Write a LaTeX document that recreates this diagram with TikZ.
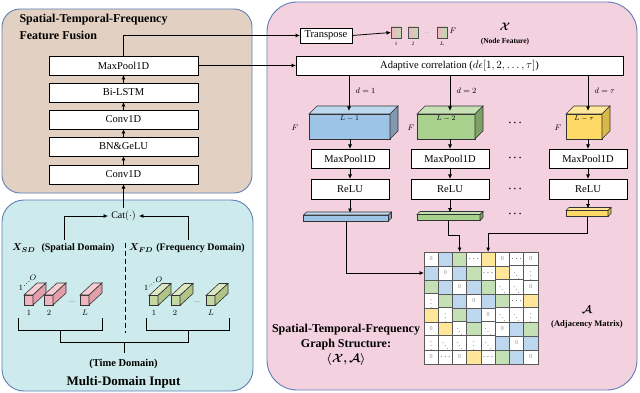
\documentclass[tikz,border=0pt]{standalone}
\usepackage{fontspec}
\setmainfont{Liberation Serif}
\usepackage{bm}
\usetikzlibrary{arrows.meta,calc}
\definecolor{beige}{HTML}{E2D0C2}
\definecolor{cyanbg}{HTML}{CDEBEC}
\definecolor{pinkbg}{HTML}{F4D1DF}
\definecolor{pborder}{HTML}{5E7FB5}
\definecolor{cb}{HTML}{BDD7EE}
\definecolor{cg}{HTML}{C5E0B4}
\definecolor{cy}{HTML}{FFE699}
\definecolor{bfront}{HTML}{9DC3E6}
\definecolor{bside}{HTML}{8497B0}
\definecolor{gfront}{HTML}{A9D18E}
\definecolor{gside}{HTML}{7F9F64}
\definecolor{yfront}{HTML}{FFD966}
\definecolor{yside}{HTML}{D9B84A}
\definecolor{pkfront}{HTML}{EFB4BE}
\definecolor{pktop}{HTML}{F7CDD4}
\definecolor{pkside}{HTML}{E29FAB}
\definecolor{gnfront}{HTML}{C6D8A2}
\definecolor{gntop}{HTML}{DCE8C2}
\definecolor{gnside}{HTML}{AFC486}
\definecolor{sqpink}{HTML}{F2B2C0}
\definecolor{sqgreen}{HTML}{BFDDB0}
\newcommand\cubefaces[5]{%
  \filldraw[face,fill=#4] (#1.north west) -- ++(#2,-#3) -- ($(#1.north east)+(#2,-#3)$) -- (#1.north east) -- cycle;
  \filldraw[face,fill=#5] (#1.north east) -- ++(#2,-#3) -- ($(#1.south east)+(#2,-#3)$) -- (#1.south east) -- cycle;
}
\begin{document}
\begin{tikzpicture}[x=1pt,y=-1pt,
  panel/.style={draw=pborder,line width=0.9pt},
  arr/.style={-{Latex[length=4.5pt,width=4pt]},line width=0.8pt},
  ln/.style={line width=0.8pt},
  blk/.style={draw,line width=0.8pt,fill=white,minimum height=19,inner sep=0,outer sep=0,font=\fontsize{10.5}{12}\selectfont},
  face/.style={draw=black!80,line width=0.6pt},
  frontface/.style={face,inner sep=0,outer sep=0},
  title/.style={font=\fontsize{12}{14}\selectfont\bfseries},
  lbl/.style={font=\fontsize{10}{12}\selectfont\bfseries},
  small/.style={font=\fontsize{8}{9}\selectfont},
  tiny/.style={font=\fontsize{5}{6}\selectfont},
  sq/.style={draw=black!70,line width=0.6pt,minimum width=10,minimum height=11,inner sep=0,outer sep=0,left color=sqpink,right color=sqgreen},
  cell/.style={draw=black!65,line width=0.6pt,minimum width=14.25,minimum height=14,inner sep=0,outer sep=0,font=\fontsize{6}{6}\selectfont},
  dts/.style={font=\fontsize{10}{10}\selectfont}
]
\useasboundingbox (0,0) rectangle (640,393);
% panels
\draw[panel,fill=beige,rounded corners=18] (2,9) rectangle (252,193);
\draw[panel,fill=cyanbg,rounded corners=22] (2,200) rectangle (253,391);
\draw[panel,fill=pinkbg,rounded corners=30] (267,2) rectangle (637,390);

% feature fusion
\node[title,anchor=west] (t1) at (16,20) {Spatial-Temporal-Frequency};
\node[title,anchor=west] (t2) at (16,35) {Feature Fusion};
\node[blk,minimum width=149] (mp) at (123.5,65.5) {MaxPool1D};
\node[blk,minimum width=149] (bl) at (123.5,92.5) {Bi-LSTM};
\node[blk,minimum width=149] (cv2) at (123.5,119.5) {Conv1D};
\node[blk,minimum width=149] (bn) at (123.5,146.5) {BN\&GeLU};
\node[blk,minimum width=149] (cv1) at (123.5,174.5) {Conv1D};
\draw[arr] (cv1) -- (bn);
\draw[arr] (bn) -- (cv2);
\draw[arr] (cv2) -- (bl);
\draw[arr] (bl) -- (mp);

% multi-domain input
\node[font=\fontsize{10}{12}\selectfont,inner sep=3] (cat) at (123.5,216) {Cat$(\cdot)$};
\draw[arr] (cat) -- (cv1);
\coordinate (sd) at (64,240);
\coordinate (fd) at (188,240);
\draw[arr] (sd) |- (cat.west);
\draw[arr] (fd) |- (cat.east);
\node[lbl,anchor=west,inner sep=0] (xsd) at (12,248.5) {$\bm{X_{SD}}$\hspace{6pt}(Spatial Domain)};
\node[lbl,anchor=west,inner sep=0] (xfd) at (129,248.5) {$\bm{X_{FD}}$\hspace{3pt}(Frequency Domain)};
\draw[line width=1pt,dash pattern=on 5pt off 3pt] (125,243) -- (125,333);

% pink prisms
\foreach \nm/\xa in {p1/28.5,p2/48.5,p3/84.5}{
  \node[frontface,fill=pkfront,minimum width=9,minimum height=10] (\nm) at (\xa,300) {};
  \cubefaces{\nm}{13}{12}{pktop}{pkside}
}
\foreach \nm/\xa in {g1/153.5,g2/175.5,g3/210.5}{
  \node[frontface,fill=gnfront,minimum width=9,minimum height=10] (\nm) at (\xa,300.5) {};
  \cubefaces{\nm}{13}{12}{gntop}{gnside}
}
\node[small,text=black!50] (pd) at (72,302) {...};
\node[small,text=black!50] (gd) at (197,302) {...};
\foreach \nm/\xa/\t in {l1/29/1,l2/49/2,l3/85/L,m1/154/1,m2/175/2,m3/211/L}{
  \node[small,font=\fontsize{8.5}{9}\selectfont] (\nm) at (\xa,313) {$\t$};
}
\node[small,inner sep=0] (o1a) at (21,288) {1};
\node[small,inner sep=0] (o1c) at (33,278) {$O$};
\foreach \dd in {0,1,2} \fill ($(24.5,285.5)+(2.2*\dd,-2*\dd)$) circle (0.45);
\node[small,inner sep=0] (o2a) at (146,288) {1};
\node[small,inner sep=0] (o2c) at (159,280) {$O$};
\foreach \dd in {0,1,2} \fill ($(149.5,286)+(2.2*\dd,-1.8*\dd)$) circle (0.45);

% brackets
\draw[ln] (18,318) -- (18,330) -- (102,330) -- (102,318);
\draw[ln] (146,318) -- (146,330) -- (229,330) -- (229,318);
\draw[ln] (60,330) -- (60,342) -- (188,342) -- (188,330);
\draw[ln] (124,342) -- (124,353);
\node[lbl,font=\fontsize{10.5}{12}\selectfont\bfseries] (td) at (123.5,364) {(Time Domain)};
\node[title,font=\fontsize{13}{15}\selectfont\bfseries] (mdi) at (123.5,382) {Multi-Domain Input};

% right panel top
\node[blk,minimum width=52,minimum height=15] (tr) at (326,35.5) {Transpose};
\draw[arr] (mp.north) |- (tr.west);
\node[blk,minimum width=327] (ac) at (459.5,65.5) {Adaptive correlation ($d\epsilon[1,2,\ldots,\tau]$)};
\draw[arr] (mp.east) -- (mp.east -| ac.west);
\node[sq] (q1) at (396,32.5) {};
\node[sq] (q2) at (413,32.5) {};
\node[sq] (q3) at (442,32.5) {};
\draw[arr] (tr.east) -- (q1.west);
\node[tiny,text=black!50] (qd) at (427,33) {...};
\node[tiny] (ql1) at (396,44) {1};
\node[tiny] (ql2) at (413,44) {2};
\node[tiny] (ql3) at (442,44) {$L$};
\node[small] (qf) at (453,31) {$F$};
\node[font=\fontsize{11}{12}\selectfont] (xn) at (505,27) {$\bm{\mathcal{X}}$};
\node[font=\fontsize{7.5}{9}\selectfont\bfseries] (nf) at (505,42) {(Node Feature)};

% cubes
\node[frontface,fill=bfront,minimum width=81,minimum height=25] (c1) at (349.5,126.5) {};
\cubefaces{c1}{8}{8}{cb}{bside}
\node[frontface,fill=gfront,minimum width=58,minimum height=25] (c2) at (446,126.5) {};
\cubefaces{c2}{8}{8}{cg}{gside}
\node[frontface,fill=yfront,minimum width=36,minimum height=25] (c3) at (584,126.5) {};
\cubefaces{c3}{8}{8}{cy}{yside}
\node[font=\fontsize{7}{8}\selectfont] (cl1) at (349.5,118.5) {$L-1$};
\node[font=\fontsize{7}{8}\selectfont] (cl2) at (446,118.5) {$L-2$};
\node[font=\fontsize{7}{8}\selectfont] (cl3) at (584,118.5) {$L-\tau$};
\node[small] (f1) at (295,128) {$F$};
\node[small] (f2) at (411,128) {$F$};
\node[small] (f3) at (558,128) {$F$};

\coordinate (k1) at (349,111);
\coordinate (k2) at (450,111);
\coordinate (k3) at (588,111);
\draw[arr] (ac.south -| k1) -- (k1);
\draw[arr] (ac.south -| k2) -- (k2);
\draw[arr] (ac.south -| k3) -- (k3);
\node[small,anchor=west] (d1) at (352,91) {$d=1$};
\node[small,anchor=west] (d2) at (453,91) {$d=2$};
\node[small,anchor=west] (d3) at (591,91) {$d=\tau$};

% maxpool / relu columns
\node[blk,minimum width=78] (mpa) at (350,158.5) {MaxPool1D};
\node[blk,minimum width=78] (mpb) at (450,158.5) {MaxPool1D};
\node[blk,minimum width=78] (mpc) at (588,158.5) {MaxPool1D};
\node[blk,minimum width=78,minimum height=20] (rla) at (350,189) {ReLU};
\node[blk,minimum width=78,minimum height=20] (rlb) at (450,189) {ReLU};
\node[blk,minimum width=78,minimum height=20] (rlc) at (588,189) {ReLU};
\draw[arr] (c1.south -| mpa.north) -- (mpa.north);
\draw[arr] (c2.south -| mpb.north) -- (mpb.north);
\draw[arr] (c3.south -| mpc.north) -- (mpc.north);
\draw[arr] (mpa) -- (rla);
\draw[arr] (mpb) -- (rlb);
\draw[arr] (mpc) -- (rlc);

% bars
\node[frontface,fill=bfront,minimum width=85,minimum height=6] (b1) at (346,218) {};
\cubefaces{b1}{3}{3}{cb}{bside}
\node[frontface,fill=gfront,minimum width=63,minimum height=6] (b2) at (448.5,217.5) {};
\cubefaces{b2}{3}{3}{cg}{gside}
\node[frontface,fill=yfront,minimum width=42,minimum height=6] (b3) at (587,213.5) {};
\cubefaces{b3}{3}{3}{cy}{yside}
\draw[arr] (rla.south) -- ($(rla.south |- b1.north)+(0,-2)$);
\draw[arr] (rlb.south) -- ($(rlb.south |- b2.north)+(0,-2)$);
\draw[arr] (rlc.south) -- ($(rlc.south |- b3.north)+(0,-2)$);

% dots between columns
\node[dts] (e1) at (515,123) {$\bm{\cdots}$};
\node[dts] (e2) at (515,158) {$\bm{\cdots}$};
\node[dts] (e3) at (515,189) {$\bm{\cdots}$};
\node[dts] (e4) at (515,214) {$\bm{\cdots}$};

% matrix
\foreach \row [count=\r] in {{0,b,g,h,y,0,h,0},{b,0,b,g,h,y,d,v},{g,b,0,b,g,d,d,0},{v,g,b,0,b,g,h,y},{y,v,g,b,0,d,d,v},{0,y,d,g,d,0,b,g},{v,d,d,v,d,b,0,b},{0,h,0,y,h,g,b,0}}{
  \foreach \c [count=\k] in \row {
    \def\cf{white}\def\ct{}%
    \if 0\c \def\ct{\textcolor{black!45}{0}}\fi
    \if b\c \def\cf{cb}\fi
    \if g\c \def\cf{cg}\fi
    \if y\c \def\cf{cy}\fi
    \if h\c \def\ct{$\bm{\cdots}$}\fi
    \if v\c \def\ct{$\vdots$}\fi
    \if d\c \def\ct{$\ddots$}\fi
    \node[cell,fill=\cf] (m-\r-\k) at ({424+(\k-0.5)*14.25},{252+(\r-0.5)*14}) {\ct};
  }
}
\draw[arr] (b1.south) |- (m-2-1.west);
\draw[arr] (b2.south) -- ++(0,15) -| (m-1-3.north);
\draw[arr] (b3.south) -- ++(0,17) -| (m-1-5.north);

\node[title,inner sep=0] (gs1) at (346,330) {Spatial-Temporal-Frequency};
\node[title,inner sep=0] (gs2) at (346,344.5) {Graph Structure:};
\node[title,inner sep=0] (gs3) at (346,359.5) {$\bm{\langle\mathcal{X},\mathcal{A}\rangle}$};
\node[font=\fontsize{11}{12}\selectfont] (am) at (587,310) {$\bm{\mathcal{A}}$};
\node[font=\fontsize{8.5}{10}\selectfont\bfseries] (amt) at (587,324) {(Adjacency Matrix)};
\end{tikzpicture}
\end{document}
